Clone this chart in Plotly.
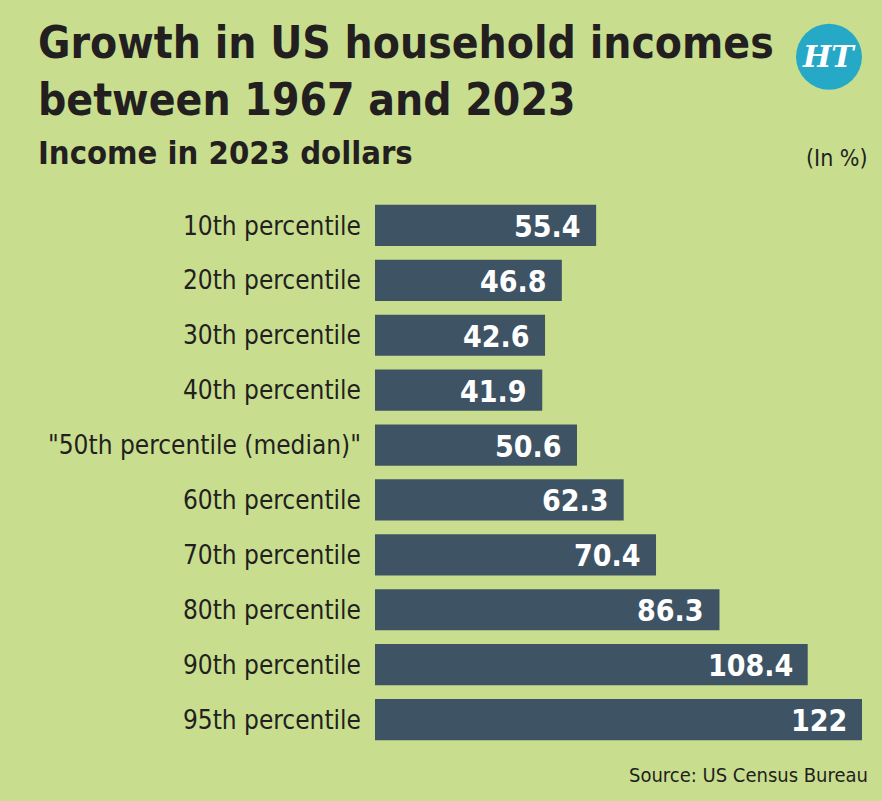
import plotly.graph_objects as go

categories = ["10th percentile", "20th percentile", "30th percentile", "40th percentile",
              "\"50th percentile (median)\"", "60th percentile", "70th percentile",
              "80th percentile", "90th percentile", "95th percentile"]
values = [55.4, 46.8, 42.6, 41.9, 50.6, 62.3, 70.4, 86.3, 108.4, 122]
value_labels = ["55.4", "46.8", "42.6", "41.9", "50.6", "62.3", "70.4", "86.3", "108.4", "122"]

W, H = 882, 801
L, R, T, B = 375, 20, 197.5, 53.5
BG = "#c8de8e"
BAR = "#3e5465"
TXT = "#231f20"
NARROW = "DejaVu Sans Condensed, Liberation Sans Narrow, sans-serif"

def pxx(px):
    return (px - L) / (W - L - R)

def pxy(py):
    return (H - B - py) / (H - T - B)

fig = go.Figure(go.Bar(
    x=values, y=categories, orientation="h",
    marker=dict(color=BAR, line=dict(width=0)),
    hoverinfo="skip",
))

annotations = []
for v, lab, c in zip(values, value_labels, categories):
    annotations.append(dict(x=v, y=c, xref="x", yref="y", text="<b>" + lab + "</b>",
                            showarrow=False, xanchor="right", yanchor="middle", xshift=-13, yshift=-1,
                            font=dict(family=NARROW, size=30, color="white")))

annotations += [
    dict(x=pxx(36), y=pxy(14), xref="paper", yref="paper", xanchor="left", yanchor="top",
         text="<b>Growth in US household incomes<br>between 1967 and 2023</b>", align="left",
         showarrow=False, font=dict(family=NARROW, size=44, color=TXT)),
    dict(x=pxx(36), y=pxy(131), xref="paper", yref="paper", xanchor="left", yanchor="top",
         text="<b>Income in 2023 dollars</b>", align="left",
         showarrow=False, font=dict(family=NARROW, size=32.5, color=TXT)),
    dict(x=pxx(870), y=pxy(142), xref="paper", yref="paper", xanchor="right", yanchor="top",
         text="(In %)", showarrow=False, font=dict(family=NARROW, size=23, color=TXT)),
    dict(x=pxx(870), y=pxy(762), xref="paper", yref="paper", xanchor="right", yanchor="top",
         text="Source: US Census Bureau", showarrow=False, font=dict(family=NARROW, size=20, color=TXT)),
    dict(x=pxx(829), y=pxy(56), xref="paper", yref="paper", xanchor="center", yanchor="middle",
         text="<b><i>HT</i></b>", showarrow=False,
         font=dict(family="DejaVu Serif, serif", size=30, color="white")),
]

fig.add_shape(type="circle", xref="paper", yref="paper",
              x0=pxx(796), x1=pxx(862), y0=pxy(89), y1=pxy(23),
              fillcolor="#26a9c6", line=dict(width=0), layer="above")

fig.update_layout(
    width=W, height=H,
    margin=dict(l=L, r=R, t=T, b=B, pad=0),
    paper_bgcolor=BG, plot_bgcolor=BG,
    bargap=0.25,
    showlegend=False,
    annotations=annotations,
    xaxis=dict(range=[0, 122], visible=False, fixedrange=True),
    yaxis=dict(autorange="reversed", showgrid=False, zeroline=False, showline=False,
               ticks="", ticklabelstandoff=13,
               tickfont=dict(family=NARROW, size=26, color=TXT)),
)

fig.write_html("out.html")
